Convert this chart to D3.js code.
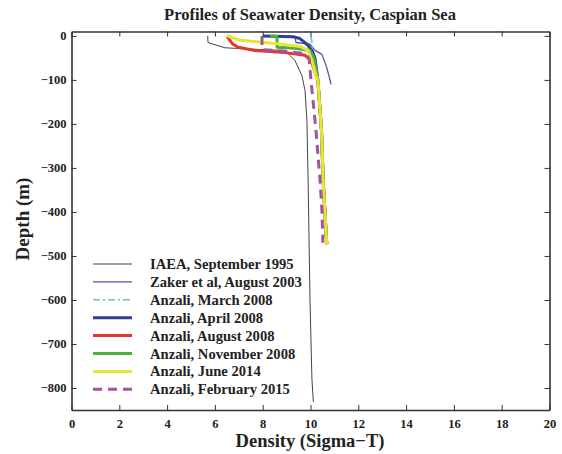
<!DOCTYPE html>
<html>
<head>
<meta charset="utf-8">
<script src="https://cdn.jsdelivr.net/npm/d3@7"></script>
<style>
  body { margin: 0; background: #fff; }
  svg text { font-family: "Liberation Serif", "DejaVu Serif", serif; font-weight: bold; fill: #222; }
</style>
</head>
<body>
<script>
// profils de densité (sigma-T) en fonction de la profondeur (m)
const iaeaDensity    = [5.70, 5.71, 6.42, 7.89, 8.93, 9.35, 9.64, 9.77, 9.85, 9.90, 9.98, 10.06, 10.12];
const iaeaDepth      = [0, -15, -27, -31, -33, -56, -90, -124, -192, -329, -602, -780, -832];

const zakerDensity   = [9.35, 9.39, 9.98, 10.19, 10.48, 10.65, 10.77, 10.86];
const zakerDepth     = [0, -15, -19, -33, -42, -67, -90, -110];

const marchDensity   = [10.02, 10.10, 10.23, 10.31, 10.46, 10.53, 10.68];
const marchDepth     = [0, -28, -79, -101, -215, -329, -473];

const aprilDensity   = [8.01, 9.27, 9.56, 9.85, 10.06, 10.19, 10.31, 10.46, 10.53, 10.68];
const aprilDepth     = [0, -2, -6, -19, -33, -51, -101, -215, -329, -473];

const augustDensity  = [6.51, 6.72, 6.97, 7.68, 8.93, 9.77, 10.02, 10.31, 10.46, 10.53, 10.68];
const augustDepth    = [-1, -17, -26, -33, -38, -44, -56, -101, -215, -329, -473];

const novDensity     = [8.31, 8.60, 8.60, 9.35, 9.98, 10.15, 10.31, 10.46, 10.53, 10.68];
const novDepth       = [0, -1, -26, -28, -33, -51, -101, -215, -329, -473];

const juneDensity    = [6.51, 6.84, 7.09, 8.51, 9.56, 9.90, 10.06, 10.23, 10.31, 10.46, 10.53, 10.68];
const juneDepth      = [0, -6, -10, -17, -24, -33, -56, -90, -101, -215, -329, -473];

const febDensity     = [7.97, 7.97, 7.97, 8.93, 9.77, 9.94, 10.02, 10.23, 10.40, 10.48, 10.52];
const febDepth       = [0, -22, -31, -35, -40, -51, -101, -215, -329, -398, -470];

const seriesNames = [
    "IAEA, September 1995",
    "Zaker et al, August 2003",
    "Anzali, March 2008",
    "Anzali, April 2008",
    "Anzali, August 2008",
    "Anzali, November 2008",
    "Anzali, June 2014",
    "Anzali, February 2015"
];

const xTicks = [0, 2, 4, 6, 8, 10, 12, 14, 16, 18, 20];
const yTicks = [0, -100, -200, -300, -400, -500, -600, -700, -800];

// styles par série
const seriesStyles = [
    { color: "#444444", width: 1, dash: null },
    { color: "#5555aa", width: 1.3, dash: null },
    { color: "#66c6cc", width: 1.6, dash: "7,3,2,3" },
    { color: "#2f3f98", width: 3, dash: null },
    { color: "#e8342c", width: 3, dash: null },
    { color: "#4fae3c", width: 3, dash: null },
    { color: "#e6e632", width: 3, dash: null },
    { color: "#a0559f", width: 3, dash: "9,6" }
];

const allSeries = [
    [iaeaDensity, iaeaDepth],
    [zakerDensity, zakerDepth],
    [marchDensity, marchDepth],
    [aprilDensity, aprilDepth],
    [augustDensity, augustDepth],
    [novDensity, novDepth],
    [juneDensity, juneDepth],
    [febDensity, febDepth]
];

const width = 562, height = 454;
const margin = { left: 71.5, right: 12.5, top: 31.5, bottom: 44 };

const svg = d3.select("body").append("svg").attr("width", width).attr("height", height);

const x = d3.scaleLinear().domain([0, 20]).range([margin.left, width - margin.right]);
const y = d3.scaleLinear().domain([10, -850]).range([margin.top, height - margin.bottom]);

// titre
svg.append("text")
    .attr("x", 310).attr("y", 20)
    .attr("text-anchor", "middle")
    .style("font-size", "16.5px")
    .text("Profiles of Seawater Density, Caspian Sea");

// courbes
const line = d3.line().x((d) => x(d[0])).y((d) => y(d[1]));

allSeries.forEach(([dens, depth], i) => {
    const pts = dens.map((v, k) => [v, depth[k]]);
    const st = seriesStyles[i];
    svg.append("path")
        .datum(pts)
        .attr("d", line)
        .attr("fill", "none")
        .attr("stroke", st.color)
        .attr("stroke-width", st.width)
        .attr("stroke-linejoin", "round")
        .attr("stroke-dasharray", st.dash);
});

// axes (ticks vers l'intérieur)
const axisColor = "#333";
const xAxis = svg.append("g")
    .attr("transform", `translate(0,${height - margin.bottom})`)
    .call(d3.axisBottom(x).tickValues(xTicks).tickSize(-5).tickSizeOuter(0).tickPadding(9).tickFormat(d3.format("d")));
const xTop = svg.append("g")
    .attr("transform", `translate(0,${margin.top})`)
    .call(d3.axisTop(x).tickValues(xTicks).tickSize(-5).tickSizeOuter(0).tickFormat(""));
const yAxis = svg.append("g")
    .attr("transform", `translate(${margin.left},0)`)
    .call(d3.axisLeft(y).tickValues(yTicks).tickSize(-5).tickSizeOuter(0).tickPadding(5).tickFormat(d3.format("d")));
const yRight = svg.append("g")
    .attr("transform", `translate(${width - margin.right},0)`)
    .call(d3.axisRight(y).tickValues(yTicks).tickSize(-5).tickSizeOuter(0).tickFormat(""));

[xAxis, xTop, yAxis, yRight].forEach((g) => {
    g.select(".domain").attr("stroke", axisColor).attr("stroke-width", 1.6);
    g.selectAll(".tick line").attr("stroke", axisColor);
    g.selectAll("text").style("font-size", "12.5px").style("font-family", "Liberation Serif, serif").style("font-weight", "bold").attr("fill", "#222");
});

// étiquettes des axes
svg.append("text")
    .attr("x", 310).attr("y", 447)
    .attr("text-anchor", "middle")
    .style("font-size", "18.5px")
    .text("Density (Sigma\u2212T)");

svg.append("text")
    .attr("transform", "translate(29,219) rotate(-90)")
    .attr("text-anchor", "middle")
    .style("font-size", "19px")
    .text("Depth (m)");

// légende
const legend = svg.append("g").attr("transform", "translate(93,264)");
seriesNames.forEach((name, i) => {
    const st = seriesStyles[i];
    const row = legend.append("g").attr("transform", `translate(0,${i * 17.9})`);
    row.append("line")
        .attr("x1", 0).attr("x2", 39)
        .attr("stroke", st.color)
        .attr("stroke-width", st.width)
        .attr("stroke-dasharray", st.dash);
    row.append("text")
        .attr("x", 57).attr("y", 5)
        .style("font-size", "14.6px")
        .text(name);
});
</script>
</body>
</html>
